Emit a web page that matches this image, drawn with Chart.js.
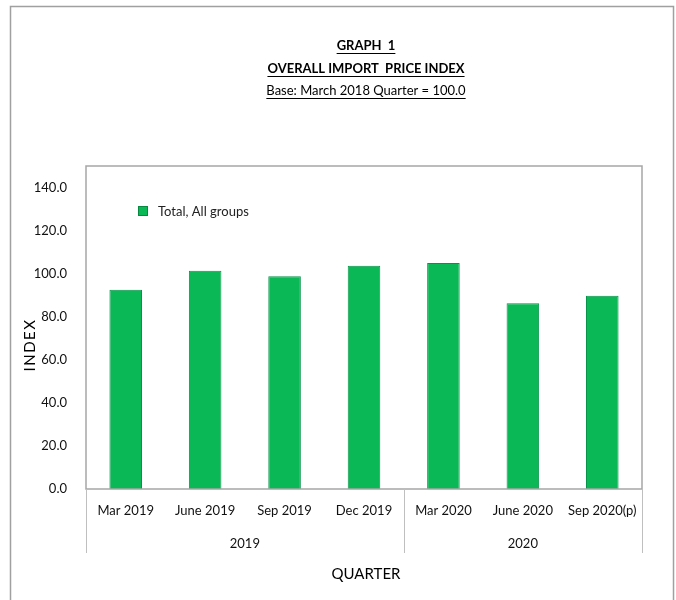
<!DOCTYPE html>
<html>
<head>
    <style>
        html, body { margin: 0; padding: 0; background: #fff; }
        #wrap { position: relative; width: 676px; height: 600px; }
    </style>
    <script src="https://cdn.jsdelivr.net/npm/chart.js"></script>
</head>
<body>
    <div id="wrap"><canvas id="chart" width="676" height="600"></canvas></div>
    <script>
        // chart data
        const quarters = ['Mar 2019', 'June 2019', 'Sep 2019', 'Dec 2019', 'Mar 2020', 'June 2020', 'Sep 2020(p)'];
        const years = ['2019', '2019', '2019', '2019', '2020', '2020', '2020'];
        const indexValues = [92.5, 101.3, 98.8, 103.7, 104.9, 86.3, 89.7];
        const yTicks = [0, 20, 40, 60, 80, 100, 120, 140];
        const seriesName = 'Total, All groups';
        const titleLines = ['GRAPH  1', 'OVERALL IMPORT  PRICE INDEX', 'Base: March 2018 Quarter = 100.0'];

        const FONT = 'Lato, "Open Sans", sans-serif';
        const GREEN = '#0ab856';

        // draws frame, titles, legend, plot box, year row and axis titles
        const decorations = {
            id: 'decorations',
            beforeDraw(chart) {
                const ctx = chart.ctx;
                ctx.save();
                ctx.strokeStyle = '#a0a0a0';
                ctx.lineWidth = 1.5;
                ctx.strokeRect(10.5, 6.5, 663, 620);
                ctx.restore();
            },
            afterDraw(chart) {
                const ctx = chart.ctx;
                const area = chart.chartArea;
                const xs = chart.scales.x;
                ctx.save();

                // plot box
                ctx.strokeStyle = '#a6a6a6';
                ctx.lineWidth = 1.5;
                ctx.strokeRect(area.left, area.top, area.right - area.left, area.bottom - area.top);

                // titles, underlined
                const cx = (area.left + area.right) / 2 + 2;
                const ys = [46, 69, 91];
                ctx.fillStyle = '#000';
                ctx.textAlign = 'center';
                ctx.textBaseline = 'middle';
                titleLines.forEach((t, i) => {
                    ctx.font = (i < 2 ? 'bold ' : '') + '13px ' + FONT;
                    ctx.fillText(t, cx, ys[i]);
                    const w = ctx.measureText(t).width;
                    ctx.fillRect(cx - w / 2, ys[i] + 7, w, 1);
                });

                // legend
                ctx.fillStyle = GREEN;
                ctx.fillRect(138, 206, 10, 10);
                ctx.strokeStyle = '#078a40';
                ctx.lineWidth = 1;
                ctx.strokeRect(138.5, 206.5, 9, 9);
                ctx.fillStyle = '#222';
                ctx.font = '13px ' + FONT;
                ctx.textAlign = 'left';
                ctx.fillText(seriesName, 158, 212);

                // year group row with separators
                const step = xs.getPixelForValue(1) - xs.getPixelForValue(0);
                const groups = [];
                years.forEach((y, i) => {
                    const last = groups[groups.length - 1];
                    if (last && last.name === y) last.end = i;
                    else groups.push({ name: y, start: i, end: i });
                });
                ctx.strokeStyle = '#bfbfbf';
                ctx.lineWidth = 1;
                ctx.fillStyle = '#111';
                ctx.textAlign = 'center';
                groups.forEach((g, gi) => {
                    const x0 = xs.getPixelForValue(g.start) - step / 2;
                    const x1 = xs.getPixelForValue(g.end) + step / 2;
                    ctx.beginPath();
                    ctx.moveTo(Math.round(x0) + 0.5, area.bottom);
                    ctx.lineTo(Math.round(x0) + 0.5, 553);
                    if (gi === groups.length - 1) {
                        ctx.moveTo(Math.round(x1) + 0.5, area.bottom);
                        ctx.lineTo(Math.round(x1) + 0.5, 553);
                    }
                    ctx.stroke();
                    ctx.fillText(g.name, (x0 + x1) / 2, 544);
                });

                // axis titles
                ctx.font = '15px ' + FONT;
                ctx.fillStyle = '#000';
                ctx.fillText('QUARTER', cx, 574);
                ctx.translate(30, 345);
                ctx.rotate(-Math.PI / 2);
                ctx.letterSpacing = '1.5px';
                ctx.fillText('INDEX', 0, 0);
                ctx.restore();
            }
        };

        new Chart(document.getElementById('chart'), {
            type: 'bar',
            data: {
                labels: quarters,
                datasets: [{
                    label: seriesName,
                    data: indexValues,
                    backgroundColor: GREEN,
                    borderColor: '#07934a',
                    borderWidth: 1,
                    barPercentage: 0.41,
                    categoryPercentage: 1.0
                }]
            },
            options: {
                responsive: false,
                animation: false,
                layout: { padding: { left: 0, top: 166, right: 34, bottom: 0 } },
                plugins: { legend: { display: false }, tooltip: { enabled: false } },
                scales: {
                    x: {
                        grid: { display: false },
                        border: { display: false },
                        ticks: {
                            color: '#111',
                            font: { size: 13, family: FONT },
                            padding: 6,
                            maxRotation: 0,
                            autoSkip: false
                        },
                        afterFit(scale) { scale.height = 111; }
                    },
                    y: {
                        min: 0,
                        max: 150,
                        grid: { display: false },
                        border: { display: false },
                        afterBuildTicks(scale) { scale.ticks = yTicks.map(v => ({ value: v })); },
                        ticks: {
                            color: '#111',
                            font: { size: 13, family: FONT },
                            padding: 11,
                            callback: v => Number(v).toFixed(1)
                        },
                        afterFit(scale) { scale.width = 86; }
                    }
                }
            },
            plugins: [decorations]
        });
    </script>
</body>
</html>
